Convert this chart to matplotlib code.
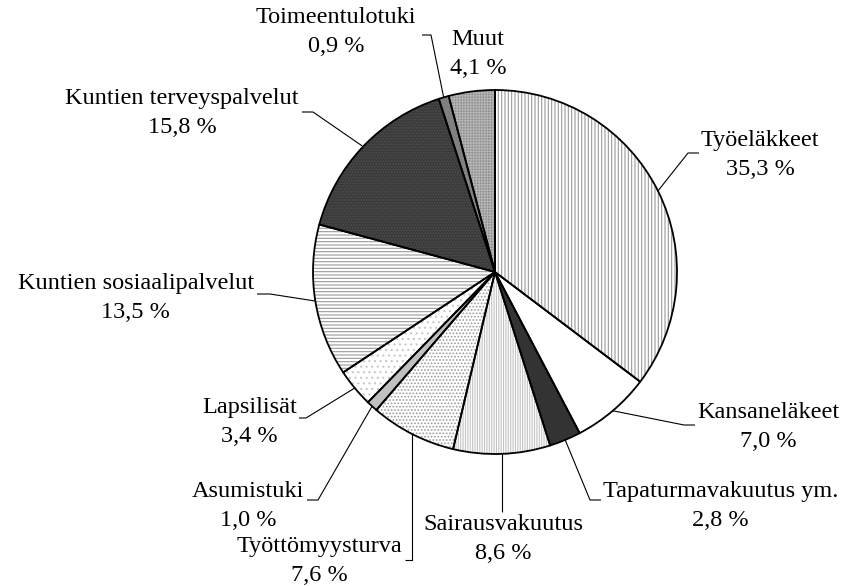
import numpy as np
import matplotlib.pyplot as plt

W, H = 843, 586

labels = ["Työeläkkeet", "Kansaneläkeet", "Tapaturmavakuutus ym.", "Sairausvakuutus",
          "Työttömyysturva", "Asumistuki", "Lapsilisät", "Kuntien sosiaalipalvelut",
          "Kuntien terveyspalvelut", "Toimeentulotuki", "Muut"]
shares = [35.3, 7.0, 2.8, 8.6, 7.6, 1.0, 3.4, 13.5, 15.8, 0.9, 4.1]

faces = ["white", "white", "#333333", "white", "white", "#c0c0c0",
         "white", "white", "#3a3a3a", "#808080", "#8c8c8c"]
hatches = ["|||||", None, None, "|||||||", ".....", None,
           "...", "-----", "......", None, "++++++"]
hatch_colors = ["#9a9a9a", "white", "#333333", "#c4c4c4", "#9a9a9a", "#c0c0c0",
                "#c8c8c8", "#9a9a9a", "#4e4e4e", "#808080", "#b4b4b4"]

# label layout in pixels from the top-left corner:
# text anchor x, text centre y, alignment, elbow (x, y), tick end x
# None for an elbow x means "straight below the slice"
layout = [
    (701, 155, "left", 688, 153, 699),
    (697, 427, "left", 684, 425, 695),
    (603, 506, "left", 590, 500, 601),
    (503, 539, "center", None, 512, None),
    (402, 561, "right", None, 560, 405),
    (304, 506, "right", 318, 500, 307),
    (297, 422, "right", 306, 418, 299),
    (254, 298, "right", 270, 294, 257),
    (299, 113, "right", 313, 112, 302),
    (416, 32, "right", 431, 35, 422),
    (478, 54, "center", None, None, None),
]

cx, cy, r = 495, 272, 182

plt.rcParams["font.family"] = ["Liberation Serif", "DejaVu Serif"]
plt.rcParams["hatch.linewidth"] = 0.8

fig = plt.figure(figsize=(W / 100, H / 100), dpi=100)
ax = fig.add_axes([0, 0, 1, 1])

# fills with hatching (edge colour drives the hatch colour)
wedges, _ = ax.pie(shares, startangle=90, counterclock=False, center=(cx, H - cy),
                   radius=r, colors=faces, frame=True,
                   wedgeprops=dict(linewidth=0))
for w, h, hc in zip(wedges, hatches, hatch_colors):
    w.set_edgecolor(hc)
    if h:
        w.set_hatch(h)

# black outlines on top
ax.pie(shares, startangle=90, counterclock=False, center=(cx, H - cy),
       radius=r, colors=["none"] * len(shares), frame=True,
       wedgeprops=dict(linewidth=1.3, edgecolor="black"))
ax.set_xlim(0, W)
ax.set_ylim(0, H)
ax.set_aspect("equal")
ax.axis("off")

for w, lab, val, (tx, ty, ha, ex, ey, endx) in zip(wedges, labels, shares, layout):
    mid = np.deg2rad((w.theta1 + w.theta2) / 2)
    axp = cx + r * np.cos(mid)
    ayp = H - cy + r * np.sin(mid)
    txt = lab + "\n" + f"{val:.1f}".replace(".", ",") + " %"
    ax.text(tx, H - ty, txt, ha=ha, va="center", multialignment="center",
            fontsize=17.5, linespacing=1.5, color="black")
    if ey is None:
        continue
    if ex is None:
        ex = axp
    if endx is None:
        endx = ex
    ax.plot([axp, ex, endx], [ayp, H - ey, H - ey], color="black", lw=0.8,
            solid_capstyle="butt")

fig.savefig("out.png", dpi=100, facecolor="white")
